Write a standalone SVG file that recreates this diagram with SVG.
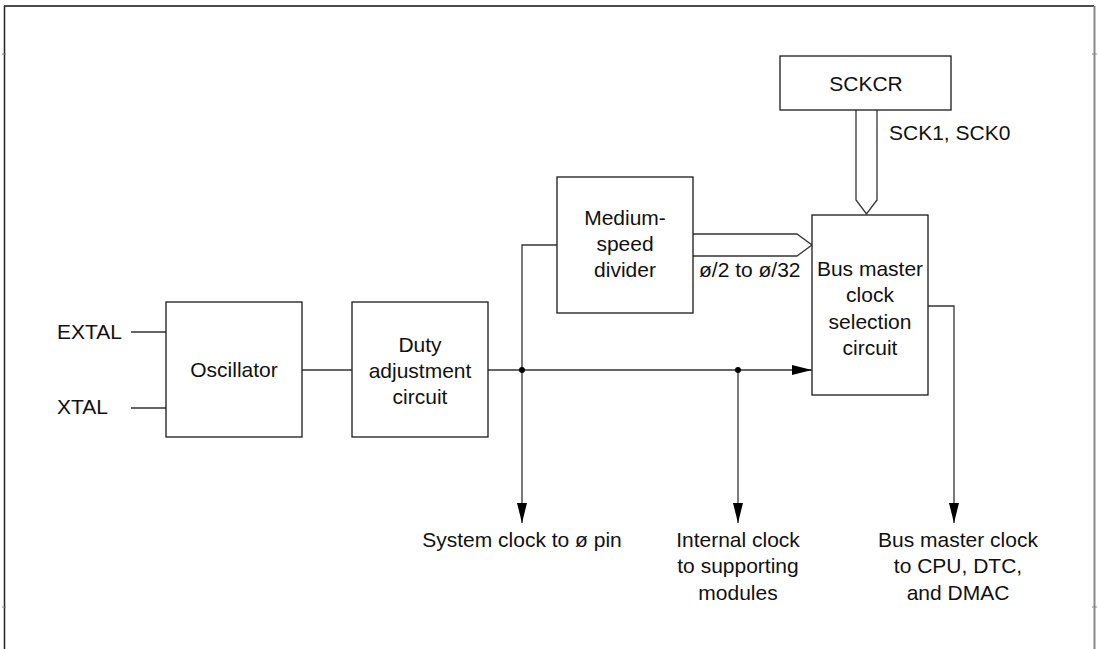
<svg xmlns="http://www.w3.org/2000/svg" width="1099" height="649" viewBox="0 0 1099 649">
<style>
.box{fill:#fff;stroke:#1a1a1a;stroke-width:1.3}
.ln{fill:none;stroke:#333;stroke-width:1.3}
.bus{fill:#fff;stroke:#333;stroke-width:1.3}
text{font-family:"Liberation Sans",Arial,sans-serif;font-size:21px;fill:#111}
.c{text-anchor:middle}
</style>
<defs>
<marker id="arr" markerUnits="userSpaceOnUse" markerWidth="20" markerHeight="10" refX="20" refY="5" orient="auto">
<path d="M0,0 L20,5 L0,10 z" fill="#000"/>
</marker>
</defs>
<rect width="1099" height="649" fill="#fff"/>
<g id="frame">
<line x1="4" y1="6" x2="1094" y2="6" stroke="#111" stroke-width="1.5"/>
<line x1="4.5" y1="6" x2="4.5" y2="649" stroke="#222" stroke-width="1.5"/>
<line x1="1094.5" y1="6" x2="1094.5" y2="649" stroke="#888" stroke-width="2"/>
<line x1="2" y1="54" x2="6" y2="54" stroke="#888" stroke-width="1"/>
<line x1="1092" y1="54" x2="1097" y2="54" stroke="#888" stroke-width="1"/>
<line x1="2" y1="607" x2="6" y2="607" stroke="#888" stroke-width="1"/>
<line x1="1092" y1="607" x2="1097" y2="607" stroke="#888" stroke-width="1"/>
</g>
<g id="connectors">
<line class="ln" x1="131" y1="332" x2="166" y2="332"/>
<line class="ln" x1="131" y1="408" x2="166" y2="408"/>
<line class="ln" x1="302" y1="370" x2="352" y2="370"/>
<line class="ln" x1="488" y1="370" x2="812" y2="370" marker-end="url(#arr)"/>
<polyline class="ln" points="557,245 522,245 522,523" marker-end="url(#arr)"/>
<line class="ln" x1="738" y1="370" x2="738" y2="523" marker-end="url(#arr)"/>
<polyline class="ln" points="928,306 954,306 954,523" marker-end="url(#arr)"/>
<circle cx="522" cy="370" r="3" fill="#000"/>
<circle cx="738" cy="370" r="3" fill="#000"/>
<path class="bus" d="M856,110 V200 L866.5,214 L877,200 V110"/>
<path class="bus" d="M693,234 H797 L812,245 L797,256 H693"/>
</g>
<g id="sckcr">
<rect class="box" x="780" y="56" width="171" height="54"/>
<text class="c" x="866" y="91">SCKCR</text>
</g>
<g id="oscillator">
<rect class="box" x="166" y="302" width="136" height="135"/>
<text class="c" x="234" y="377">Oscillator</text>
</g>
<g id="duty">
<rect class="box" x="352" y="302" width="136" height="135"/>
<text class="c" x="420" y="352">Duty</text>
<text class="c" x="420" y="378">adjustment</text>
<text class="c" x="420" y="404">circuit</text>
</g>
<g id="divider">
<rect class="box" x="557" y="177" width="136" height="136"/>
<text class="c" x="625" y="225">Medium-</text>
<text class="c" x="625" y="251">speed</text>
<text class="c" x="625" y="277">divider</text>
</g>
<g id="busmaster">
<rect class="box" x="812" y="215" width="116" height="180"/>
<text class="c" x="870" y="276">Bus master</text>
<text class="c" x="870" y="302">clock</text>
<text class="c" x="870" y="329">selection</text>
<text class="c" x="870" y="355">circuit</text>
</g>
<g id="labels">
<text x="57" y="339">EXTAL</text>
<text x="57" y="414">XTAL</text>
<text x="889" y="140">SCK1, SCK0</text>
<text x="699" y="277">ø/2 to ø/32</text>
<text class="c" x="522" y="547">System clock to ø pin</text>
<text class="c" x="738" y="547">Internal clock</text>
<text class="c" x="738" y="573">to supporting</text>
<text class="c" x="738" y="600">modules</text>
<text class="c" x="958" y="547">Bus master clock</text>
<text class="c" x="958" y="573">to CPU, DTC,</text>
<text class="c" x="958" y="600">and DMAC</text>
</g>
</svg>
